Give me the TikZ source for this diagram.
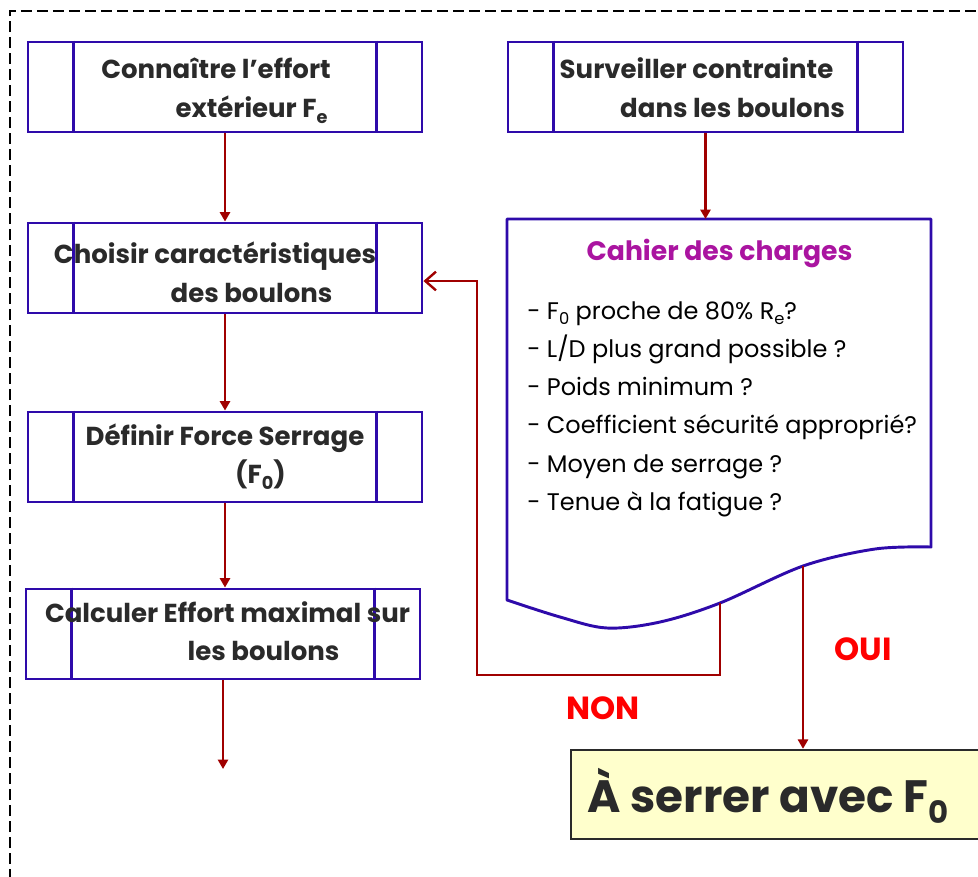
\documentclass[tikz,border=0pt]{standalone}
\usepackage{fontspec}
\setmainfont{Poppins}
\usetikzlibrary{arrows.meta}
\definecolor{boxc}{RGB}{46,10,170}
\definecolor{arrc}{RGB}{160,0,0}
\definecolor{txtc}{RGB}{42,42,42}
\definecolor{titc}{RGB}{170,20,160}
\definecolor{lblc}{RGB}{255,0,0}
\definecolor{finc}{RGB}{255,255,204}
\newcommand\lsub[1]{\raisebox{-0.45ex}{\scalebox{0.68}{#1}}}
\begin{document}
\begin{tikzpicture}[x=0.75pt,y=-0.75pt,
  procbox/.style={draw=boxc,line width=2.2pt,minimum width=295.5pt,minimum height=67.5pt,inner sep=0pt},
  inner/.style={draw=boxc,line width=2.2pt},
  btxt/.style={anchor=base,inner sep=0pt,text=txtc,font=\fontsize{19.5}{24}\selectfont\bfseries},
  ltxt/.style={anchor=base west,inner sep=0pt,text=black,font=\fontsize{18}{22}\selectfont},
  conn/.style={draw=arrc,line width=1.8pt,-{Triangle[length=7pt,width=7.5pt]}},
  lbl/.style={anchor=base,inner sep=0pt,text=lblc,font=\fontsize{24}{28}\selectfont\bfseries}]
\useasboundingbox (0,0) rectangle (978,876);
% dashed frame
\draw[line width=1.5pt,dash pattern=on 8pt off 4pt] (10,880) -- (10,11) -- (985,11);
% process boxes
\node[procbox] (b1) at (225,87) {};
\node[procbox] (b2) at (225,268) {};
\node[procbox] (b3) at (225,457) {};
\node[procbox] (b4) at (223,634) {};
\node[procbox,minimum width=296.25pt] (b5) at (705.5,87) {};
\foreach \b in {b1,b2,b3,b4,b5}{
  \draw[inner] ([xshift=35.25pt]\b.north west) -- ([xshift=35.25pt]\b.south west);
  \draw[inner] ([xshift=-35.25pt]\b.north east) -- ([xshift=-35.25pt]\b.south east);
}
% box texts
\node[btxt] (t1a) at (216,78) {Connaître l’effort};
\node[btxt] (t1b) at (251.5,117) {extérieur F\lsub{e}};
\node[btxt] (t2a) at (215,263) {Choisir caractéristiques};
\node[btxt] (t2b) at (251.5,302) {des boulons};
\node[btxt] (t3a) at (225,445) {Définir Force Serrage};
\node[btxt] (t3b) at (260.5,483) {(F\lsub{0})};
\node[btxt] (t4a) at (227.5,622) {Calculer Effort maximal sur};
\node[btxt] (t4b) at (263.5,660) {les boulons};
\node[btxt] (t5a) at (696.5,78) {Surveiller contrainte};
\node[btxt] (t5b) at (732.5,117) {dans les boulons};
% document shape
\draw[boxc,line width=2.2pt,line join=round] (507,600) -- (507,219) -- (931,219) -- (931,547)
  -- plot[smooth,tension=0.55] coordinates {(931,547) (875,549) (803,566) (720,603) (660,622) (607,628) (560,617) (507,600)}
  -- cycle;
\coordinate (doctop) at (705.5,219);
\coordinate (docnon) at (720,603);
\coordinate (docoui) at (803,566);
\node[anchor=base,inner sep=0pt,text=titc,font=\fontsize{20}{24}\selectfont\bfseries] (title) at (719.5,260) {Cahier des charges};
\node[ltxt] (l1) at (527,319) {- F\lsub{0} proche de 80\% R\lsub{e}?};
\node[ltxt] (l2) at (527,357) {- L/D plus grand possible ?};
\node[ltxt] (l3) at (527,395) {- Poids minimum ?};
\node[ltxt] (l4) at (527,433) {- Coefficient sécurité approprié?};
\node[ltxt] (l5) at (527,472) {- Moyen de serrage ?};
\node[ltxt] (l6) at (527,510) {- Tenue à la fatigue ?};
% final box
\node[draw=txtc,fill=finc,line width=1.8pt,minimum width=314.25pt,minimum height=66.75pt,inner sep=0pt] (final) at (780.5,794.5) {};
\node[anchor=base,inner sep=0pt,text=txtc,font=\fontsize{34}{40}\selectfont\bfseries] (ftxt) at (768,812) {À serrer avec F\lsub{0}};
% connectors
\draw[conn] (b1.south) -- (b2.north);
\draw[conn] (b2.south) -- (b3.north);
\draw[conn] (b3.south) -- (b3.south |- b4.north);
\coordinate (end4) at (223,769);
\draw[conn] (b4.south) -- (end4);
\draw[conn] (b5.south) -- (doctop);
\coordinate (loopa) at (720,675);
\coordinate (loopb) at (477,675);
\coordinate (loopc) at (477,281);
\draw[draw=arrc,line width=1.8pt,-{Straight Barb[length=8pt,width=14pt]}] (docnon) -- (loopa) -- (loopb) -- (loopc) -- (b2.east |- loopc);
\draw[conn] (docoui) -- (docoui |- final.north);
% labels
\node[lbl] (non) at (603,719) {NON};
\node[lbl] (oui) at (863,660) {OUI};
\end{tikzpicture}
\end{document}
